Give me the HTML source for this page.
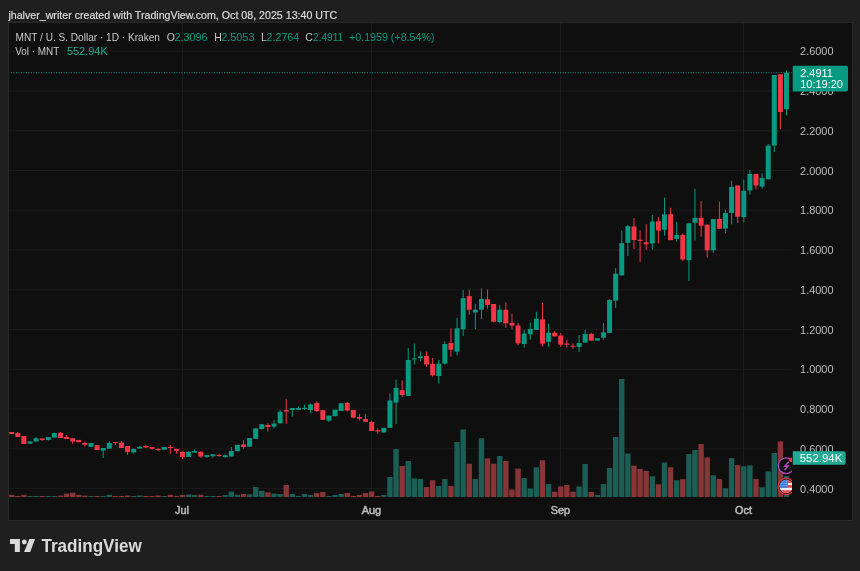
<!DOCTYPE html>
<html><head><meta charset="utf-8"><style>
html,body{margin:0;padding:0;}
body{width:860px;height:571px;overflow:hidden;background:#1f1f1f;position:relative;font-family:"Liberation Sans",Arial,sans-serif;}
svg{position:absolute;left:0;top:0;will-change:transform;}
</style></head><body>
<svg width="860" height="571" viewBox="0 0 860 571">
<defs><clipPath id="cp"><rect x="9" y="23" width="783" height="474.5"/></clipPath></defs>
<rect x="8" y="22" width="845" height="499" fill="#292929"/>
<rect x="9" y="23" width="843" height="497" fill="#0f0f0f"/>
<g clip-path="url(#cp)">
<rect x="9" y="50.72" width="782.5" height="1" fill="#1b1b1b"/>
<rect x="9" y="90.48" width="782.5" height="1" fill="#1b1b1b"/>
<rect x="9" y="130.24" width="782.5" height="1" fill="#1b1b1b"/>
<rect x="9" y="170" width="782.5" height="1" fill="#1b1b1b"/>
<rect x="9" y="209.76" width="782.5" height="1" fill="#1b1b1b"/>
<rect x="9" y="249.52" width="782.5" height="1" fill="#1b1b1b"/>
<rect x="9" y="289.28" width="782.5" height="1" fill="#1b1b1b"/>
<rect x="9" y="329.04" width="782.5" height="1" fill="#1b1b1b"/>
<rect x="9" y="368.8" width="782.5" height="1" fill="#1b1b1b"/>
<rect x="9" y="408.56" width="782.5" height="1" fill="#1b1b1b"/>
<rect x="9" y="448.32" width="782.5" height="1" fill="#1b1b1b"/>
<rect x="9" y="488.08" width="782.5" height="1" fill="#1b1b1b"/>
<rect x="182" y="23" width="1" height="474.5" fill="#1b1b1b"/>
<rect x="371" y="23" width="1" height="474.5" fill="#1b1b1b"/>
<rect x="560" y="23" width="1" height="474.5" fill="#1b1b1b"/>
<rect x="743" y="23" width="1" height="474.5" fill="#1b1b1b"/>
<rect x="8.97" y="494.8" width="5.4" height="2.2" fill="#873536"/>
<rect x="15.07" y="496" width="5.4" height="1" fill="#873536"/>
<rect x="21.17" y="494.8" width="5.4" height="2.2" fill="#873536"/>
<rect x="27.27" y="496" width="5.4" height="1" fill="#1b5e55"/>
<rect x="33.38" y="496" width="5.4" height="1" fill="#1b5e55"/>
<rect x="39.48" y="496" width="5.4" height="1" fill="#873536"/>
<rect x="45.58" y="496" width="5.4" height="1" fill="#1b5e55"/>
<rect x="51.68" y="496" width="5.4" height="1" fill="#1b5e55"/>
<rect x="57.78" y="495.6" width="5.4" height="1.4" fill="#873536"/>
<rect x="63.88" y="493.6" width="5.4" height="3.4" fill="#873536"/>
<rect x="69.98" y="492.7" width="5.4" height="4.3" fill="#873536"/>
<rect x="76.08" y="494.8" width="5.4" height="2.2" fill="#873536"/>
<rect x="82.18" y="495.6" width="5.4" height="1.4" fill="#873536"/>
<rect x="88.28" y="496" width="5.4" height="1" fill="#1b5e55"/>
<rect x="94.39" y="496" width="5.4" height="1" fill="#873536"/>
<rect x="100.49" y="496" width="5.4" height="1" fill="#1b5e55"/>
<rect x="106.59" y="494.8" width="5.4" height="2.2" fill="#1b5e55"/>
<rect x="112.69" y="496" width="5.4" height="1" fill="#873536"/>
<rect x="118.79" y="496" width="5.4" height="1" fill="#873536"/>
<rect x="124.89" y="495.5" width="5.4" height="1.5" fill="#873536"/>
<rect x="130.99" y="496" width="5.4" height="1" fill="#1b5e55"/>
<rect x="137.09" y="495.5" width="5.4" height="1.5" fill="#1b5e55"/>
<rect x="143.19" y="496" width="5.4" height="1" fill="#873536"/>
<rect x="149.3" y="496" width="5.4" height="1" fill="#873536"/>
<rect x="155.4" y="495.5" width="5.4" height="1.5" fill="#873536"/>
<rect x="161.5" y="496" width="5.4" height="1" fill="#1b5e55"/>
<rect x="167.6" y="494.8" width="5.4" height="2.2" fill="#873536"/>
<rect x="173.7" y="496" width="5.4" height="1" fill="#873536"/>
<rect x="179.8" y="495" width="5.4" height="2" fill="#873536"/>
<rect x="185.9" y="494.5" width="5.4" height="2.5" fill="#1b5e55"/>
<rect x="192" y="495" width="5.4" height="2" fill="#1b5e55"/>
<rect x="198.1" y="494.8" width="5.4" height="2.2" fill="#873536"/>
<rect x="204.2" y="496" width="5.4" height="1" fill="#1b5e55"/>
<rect x="210.31" y="496" width="5.4" height="1" fill="#1b5e55"/>
<rect x="216.41" y="496" width="5.4" height="1" fill="#873536"/>
<rect x="222.51" y="495" width="5.4" height="2" fill="#1b5e55"/>
<rect x="228.61" y="491.6" width="5.4" height="5.4" fill="#1b5e55"/>
<rect x="234.71" y="494.8" width="5.4" height="2.2" fill="#1b5e55"/>
<rect x="240.81" y="494" width="5.4" height="3" fill="#873536"/>
<rect x="246.91" y="494.3" width="5.4" height="2.7" fill="#1b5e55"/>
<rect x="253.01" y="487" width="5.4" height="10" fill="#1b5e55"/>
<rect x="259.11" y="490.8" width="5.4" height="6.2" fill="#1b5e55"/>
<rect x="265.21" y="492.3" width="5.4" height="4.7" fill="#873536"/>
<rect x="271.31" y="493.5" width="5.4" height="3.5" fill="#1b5e55"/>
<rect x="277.42" y="494" width="5.4" height="3" fill="#1b5e55"/>
<rect x="283.52" y="485" width="5.4" height="12" fill="#873536"/>
<rect x="289.62" y="494" width="5.4" height="3" fill="#1b5e55"/>
<rect x="295.72" y="496" width="5.4" height="1" fill="#1b5e55"/>
<rect x="301.82" y="494" width="5.4" height="3" fill="#1b5e55"/>
<rect x="307.92" y="495" width="5.4" height="2" fill="#1b5e55"/>
<rect x="314.02" y="493" width="5.4" height="4" fill="#873536"/>
<rect x="320.12" y="492" width="5.4" height="5" fill="#873536"/>
<rect x="326.22" y="496" width="5.4" height="1" fill="#1b5e55"/>
<rect x="332.32" y="495" width="5.4" height="2" fill="#1b5e55"/>
<rect x="338.43" y="494" width="5.4" height="3" fill="#1b5e55"/>
<rect x="344.53" y="493" width="5.4" height="4" fill="#873536"/>
<rect x="350.63" y="496" width="5.4" height="1" fill="#873536"/>
<rect x="356.73" y="495" width="5.4" height="2" fill="#873536"/>
<rect x="362.83" y="493" width="5.4" height="4" fill="#873536"/>
<rect x="368.93" y="491.5" width="5.4" height="5.5" fill="#873536"/>
<rect x="375.03" y="496" width="5.4" height="1" fill="#873536"/>
<rect x="381.13" y="495" width="5.4" height="2" fill="#1b5e55"/>
<rect x="387.23" y="477" width="5.4" height="20" fill="#1b5e55"/>
<rect x="393.33" y="449" width="5.4" height="48" fill="#1b5e55"/>
<rect x="399.44" y="466" width="5.4" height="31" fill="#873536"/>
<rect x="405.54" y="461" width="5.4" height="36" fill="#1b5e55"/>
<rect x="411.64" y="478.4" width="5.4" height="18.6" fill="#1b5e55"/>
<rect x="417.74" y="479" width="5.4" height="18" fill="#1b5e55"/>
<rect x="423.84" y="487" width="5.4" height="10" fill="#873536"/>
<rect x="429.94" y="480.3" width="5.4" height="16.7" fill="#873536"/>
<rect x="436.04" y="486" width="5.4" height="11" fill="#1b5e55"/>
<rect x="442.14" y="479" width="5.4" height="18" fill="#1b5e55"/>
<rect x="448.24" y="486" width="5.4" height="11" fill="#873536"/>
<rect x="454.35" y="442" width="5.4" height="55" fill="#1b5e55"/>
<rect x="460.45" y="429.4" width="5.4" height="67.6" fill="#1b5e55"/>
<rect x="466.55" y="463.7" width="5.4" height="33.3" fill="#873536"/>
<rect x="472.65" y="479" width="5.4" height="18" fill="#1b5e55"/>
<rect x="478.75" y="438.2" width="5.4" height="58.8" fill="#1b5e55"/>
<rect x="484.85" y="458.4" width="5.4" height="38.6" fill="#873536"/>
<rect x="490.95" y="463.7" width="5.4" height="33.3" fill="#873536"/>
<rect x="497.05" y="456" width="5.4" height="41" fill="#1b5e55"/>
<rect x="503.15" y="461" width="5.4" height="36" fill="#873536"/>
<rect x="509.25" y="489.6" width="5.4" height="7.4" fill="#873536"/>
<rect x="515.36" y="468.6" width="5.4" height="28.4" fill="#873536"/>
<rect x="521.46" y="478" width="5.4" height="19" fill="#1b5e55"/>
<rect x="527.56" y="488.6" width="5.4" height="8.4" fill="#1b5e55"/>
<rect x="533.66" y="467.2" width="5.4" height="29.8" fill="#1b5e55"/>
<rect x="539.76" y="460.2" width="5.4" height="36.8" fill="#873536"/>
<rect x="545.86" y="484" width="5.4" height="13" fill="#1b5e55"/>
<rect x="551.96" y="491.7" width="5.4" height="5.3" fill="#873536"/>
<rect x="558.06" y="486.4" width="5.4" height="10.6" fill="#873536"/>
<rect x="564.16" y="485" width="5.4" height="12" fill="#873536"/>
<rect x="570.26" y="491.7" width="5.4" height="5.3" fill="#873536"/>
<rect x="576.37" y="486.5" width="5.4" height="10.5" fill="#1b5e55"/>
<rect x="582.47" y="464" width="5.4" height="33" fill="#1b5e55"/>
<rect x="588.57" y="492" width="5.4" height="5" fill="#873536"/>
<rect x="594.67" y="495" width="5.4" height="2" fill="#1b5e55"/>
<rect x="600.77" y="484" width="5.4" height="13" fill="#1b5e55"/>
<rect x="606.87" y="468" width="5.4" height="29" fill="#1b5e55"/>
<rect x="612.97" y="437" width="5.4" height="60" fill="#1b5e55"/>
<rect x="619.07" y="379" width="5.4" height="118" fill="#1b5e55"/>
<rect x="625.17" y="453.5" width="5.4" height="43.5" fill="#1b5e55"/>
<rect x="631.27" y="465.6" width="5.4" height="31.4" fill="#873536"/>
<rect x="637.38" y="469" width="5.4" height="28" fill="#873536"/>
<rect x="643.48" y="471" width="5.4" height="26" fill="#873536"/>
<rect x="649.58" y="476.3" width="5.4" height="20.7" fill="#1b5e55"/>
<rect x="655.68" y="484.3" width="5.4" height="12.7" fill="#873536"/>
<rect x="661.78" y="462.5" width="5.4" height="34.5" fill="#1b5e55"/>
<rect x="667.88" y="467.2" width="5.4" height="29.8" fill="#873536"/>
<rect x="673.98" y="480.3" width="5.4" height="16.7" fill="#1b5e55"/>
<rect x="680.08" y="479.1" width="5.4" height="17.9" fill="#873536"/>
<rect x="686.18" y="454" width="5.4" height="43" fill="#1b5e55"/>
<rect x="692.28" y="450" width="5.4" height="47" fill="#1b5e55"/>
<rect x="698.38" y="444" width="5.4" height="53" fill="#873536"/>
<rect x="704.49" y="457.4" width="5.4" height="39.6" fill="#873536"/>
<rect x="710.59" y="475.2" width="5.4" height="21.8" fill="#1b5e55"/>
<rect x="716.69" y="479" width="5.4" height="18" fill="#873536"/>
<rect x="722.79" y="488.2" width="5.4" height="8.8" fill="#1b5e55"/>
<rect x="728.89" y="458.1" width="5.4" height="38.9" fill="#1b5e55"/>
<rect x="734.99" y="465.1" width="5.4" height="31.9" fill="#873536"/>
<rect x="741.09" y="466.3" width="5.4" height="30.7" fill="#1b5e55"/>
<rect x="747.19" y="465.3" width="5.4" height="31.7" fill="#1b5e55"/>
<rect x="753.29" y="479" width="5.4" height="18" fill="#873536"/>
<rect x="759.39" y="487.3" width="5.4" height="9.7" fill="#1b5e55"/>
<rect x="765.5" y="471.3" width="5.4" height="25.7" fill="#1b5e55"/>
<rect x="771.6" y="453" width="5.4" height="44" fill="#1b5e55"/>
<rect x="777.7" y="441.3" width="5.4" height="55.7" fill="#873536"/>
<rect x="783.8" y="476" width="5.4" height="21" fill="#1b5e55"/>
<line x1="8.392" y1="72.7" x2="791.8" y2="72.7" stroke="#089981" stroke-width="1" stroke-dasharray="1 1.508"/>
<rect x="11.17" y="432" width="1" height="2" fill="#f23645"/>
<rect x="9.17" y="432" width="5.0" height="2" fill="#f23645"/>
<rect x="17.27" y="432" width="1" height="5" fill="#f23645"/>
<rect x="15.27" y="433" width="5.0" height="4" fill="#f23645"/>
<rect x="23.37" y="436" width="1" height="8" fill="#f23645"/>
<rect x="21.37" y="436" width="5.0" height="8" fill="#f23645"/>
<rect x="29.47" y="441" width="1" height="3" fill="#089981"/>
<rect x="27.47" y="441.5" width="5.0" height="2.1" fill="#089981"/>
<rect x="35.58" y="437" width="1" height="4.5" fill="#089981"/>
<rect x="33.58" y="438.3" width="5.0" height="3.2" fill="#089981"/>
<rect x="41.68" y="438.5" width="1" height="2.5" fill="#f23645"/>
<rect x="39.68" y="438.5" width="5.0" height="1.5" fill="#f23645"/>
<rect x="47.78" y="437" width="1" height="3.5" fill="#089981"/>
<rect x="45.78" y="437" width="5.0" height="3" fill="#089981"/>
<rect x="53.88" y="432.6" width="1" height="5" fill="#089981"/>
<rect x="51.88" y="433" width="5.0" height="4.6" fill="#089981"/>
<rect x="59.98" y="432" width="1" height="6" fill="#f23645"/>
<rect x="57.98" y="432.8" width="5.0" height="5.2" fill="#f23645"/>
<rect x="66.08" y="435" width="1" height="4" fill="#f23645"/>
<rect x="64.08" y="437" width="5.0" height="2" fill="#f23645"/>
<rect x="72.18" y="438.3" width="1" height="5.6" fill="#f23645"/>
<rect x="70.18" y="438.3" width="5.0" height="3.2" fill="#f23645"/>
<rect x="78.28" y="439.9" width="1" height="2.3" fill="#f23645"/>
<rect x="76.28" y="439.9" width="5.0" height="2.3" fill="#f23645"/>
<rect x="84.38" y="441.3" width="1" height="5.3" fill="#f23645"/>
<rect x="82.38" y="443" width="5.0" height="1.8" fill="#f23645"/>
<rect x="90.48" y="443" width="1" height="3.9" fill="#089981"/>
<rect x="88.48" y="443" width="5.0" height="3.9" fill="#089981"/>
<rect x="96.59" y="445.2" width="1" height="4.8" fill="#f23645"/>
<rect x="94.59" y="445.2" width="5.0" height="4.8" fill="#f23645"/>
<rect x="102.69" y="448" width="1" height="10" fill="#089981"/>
<rect x="100.69" y="448" width="5.0" height="2.6" fill="#089981"/>
<rect x="108.79" y="441.3" width="1" height="7.4" fill="#089981"/>
<rect x="106.79" y="442.9" width="5.0" height="5.8" fill="#089981"/>
<rect x="114.89" y="442" width="1" height="3" fill="#f23645"/>
<rect x="112.89" y="441.95" width="5.0" height="1" fill="#f23645"/>
<rect x="120.99" y="441.1" width="1" height="6.9" fill="#f23645"/>
<rect x="118.99" y="442.5" width="5.0" height="5.5" fill="#f23645"/>
<rect x="127.09" y="446" width="1" height="8.9" fill="#f23645"/>
<rect x="125.09" y="446" width="5.0" height="6" fill="#f23645"/>
<rect x="133.19" y="448.4" width="1" height="5.4" fill="#089981"/>
<rect x="131.19" y="448.9" width="5.0" height="3.4" fill="#089981"/>
<rect x="139.29" y="446" width="1" height="2.6" fill="#089981"/>
<rect x="137.29" y="446.8" width="5.0" height="1.8" fill="#089981"/>
<rect x="145.39" y="445" width="1" height="3" fill="#f23645"/>
<rect x="143.39" y="446" width="5.0" height="1.5" fill="#f23645"/>
<rect x="151.5" y="447" width="1" height="2.6" fill="#f23645"/>
<rect x="149.5" y="447" width="5.0" height="1.8" fill="#f23645"/>
<rect x="157.6" y="447.9" width="1" height="3.1" fill="#f23645"/>
<rect x="155.6" y="448.9" width="5.0" height="1.1" fill="#f23645"/>
<rect x="163.7" y="447" width="1" height="2.8" fill="#089981"/>
<rect x="161.7" y="447" width="5.0" height="2.8" fill="#089981"/>
<rect x="169.8" y="445" width="1" height="8.8" fill="#f23645"/>
<rect x="167.8" y="446.8" width="5.0" height="1.2" fill="#f23645"/>
<rect x="175.9" y="448.9" width="1" height="4.9" fill="#f23645"/>
<rect x="173.9" y="448.9" width="5.0" height="2" fill="#f23645"/>
<rect x="182" y="451.3" width="1" height="7.5" fill="#f23645"/>
<rect x="180" y="452" width="5.0" height="4.9" fill="#f23645"/>
<rect x="188.1" y="451.3" width="1" height="5.6" fill="#089981"/>
<rect x="186.1" y="451.8" width="5.0" height="5.1" fill="#089981"/>
<rect x="194.2" y="449.5" width="1" height="3.5" fill="#089981"/>
<rect x="192.2" y="451" width="5.0" height="1.7" fill="#089981"/>
<rect x="200.3" y="451.3" width="1" height="6.5" fill="#f23645"/>
<rect x="198.3" y="451.8" width="5.0" height="4.7" fill="#f23645"/>
<rect x="206.4" y="454.8" width="1" height="3.2" fill="#089981"/>
<rect x="204.4" y="455.1" width="5.0" height="1.8" fill="#089981"/>
<rect x="212.5" y="454.3" width="1" height="3.3" fill="#089981"/>
<rect x="210.5" y="454.3" width="5.0" height="1.9" fill="#089981"/>
<rect x="218.61" y="454" width="1" height="3" fill="#f23645"/>
<rect x="216.61" y="455" width="5.0" height="1" fill="#f23645"/>
<rect x="224.71" y="454.4" width="1" height="3.6" fill="#089981"/>
<rect x="222.71" y="455.3" width="5.0" height="1.7" fill="#089981"/>
<rect x="230.81" y="447" width="1" height="9.5" fill="#089981"/>
<rect x="228.81" y="451" width="5.0" height="5.5" fill="#089981"/>
<rect x="236.91" y="444.9" width="1" height="6.3" fill="#089981"/>
<rect x="234.91" y="444.9" width="5.0" height="6.3" fill="#089981"/>
<rect x="243.01" y="440" width="1" height="8.6" fill="#f23645"/>
<rect x="241.01" y="444.4" width="5.0" height="2.6" fill="#f23645"/>
<rect x="249.11" y="438" width="1" height="8.7" fill="#089981"/>
<rect x="247.11" y="438" width="5.0" height="8.7" fill="#089981"/>
<rect x="255.21" y="428.4" width="1" height="10.5" fill="#089981"/>
<rect x="253.21" y="428.4" width="5.0" height="10.5" fill="#089981"/>
<rect x="261.31" y="424.2" width="1" height="5.5" fill="#089981"/>
<rect x="259.31" y="424.2" width="5.0" height="4.8" fill="#089981"/>
<rect x="267.41" y="422.8" width="1" height="8.8" fill="#f23645"/>
<rect x="265.41" y="425" width="5.0" height="2" fill="#f23645"/>
<rect x="273.51" y="420" width="1" height="8.4" fill="#089981"/>
<rect x="271.51" y="423.6" width="5.0" height="3.1" fill="#089981"/>
<rect x="279.62" y="409.7" width="1" height="13.7" fill="#089981"/>
<rect x="277.62" y="411.8" width="5.0" height="11.6" fill="#089981"/>
<rect x="285.72" y="399.2" width="1" height="24.7" fill="#f23645"/>
<rect x="283.72" y="410.2" width="5.0" height="1.4" fill="#f23645"/>
<rect x="291.82" y="408" width="1" height="8.7" fill="#089981"/>
<rect x="289.82" y="408" width="5.0" height="2" fill="#089981"/>
<rect x="297.92" y="406.2" width="1" height="3.5" fill="#089981"/>
<rect x="295.92" y="408" width="5.0" height="1.7" fill="#089981"/>
<rect x="304.02" y="404.7" width="1" height="5.3" fill="#089981"/>
<rect x="302.02" y="407.9" width="5.0" height="1" fill="#089981"/>
<rect x="310.12" y="403.6" width="1" height="9.9" fill="#089981"/>
<rect x="308.12" y="404.4" width="5.0" height="5.6" fill="#089981"/>
<rect x="316.22" y="401.4" width="1" height="10.5" fill="#f23645"/>
<rect x="314.22" y="403.1" width="5.0" height="7.9" fill="#f23645"/>
<rect x="322.32" y="410.1" width="1" height="9.7" fill="#f23645"/>
<rect x="320.32" y="410.1" width="5.0" height="9.7" fill="#f23645"/>
<rect x="328.42" y="415.6" width="1" height="6.4" fill="#089981"/>
<rect x="326.42" y="415.6" width="5.0" height="5" fill="#089981"/>
<rect x="334.52" y="409.7" width="1" height="7" fill="#089981"/>
<rect x="332.52" y="409.7" width="5.0" height="6.4" fill="#089981"/>
<rect x="340.63" y="403.3" width="1" height="7.7" fill="#089981"/>
<rect x="338.63" y="403.3" width="5.0" height="7.7" fill="#089981"/>
<rect x="346.73" y="402" width="1" height="9.5" fill="#f23645"/>
<rect x="344.73" y="402.9" width="5.0" height="7.6" fill="#f23645"/>
<rect x="352.83" y="410" width="1" height="8.3" fill="#f23645"/>
<rect x="350.83" y="410" width="5.0" height="7.6" fill="#f23645"/>
<rect x="358.93" y="414.1" width="1" height="6.3" fill="#f23645"/>
<rect x="356.93" y="417" width="5.0" height="1.7" fill="#f23645"/>
<rect x="365.03" y="413.8" width="1" height="8" fill="#f23645"/>
<rect x="363.03" y="419" width="5.0" height="2.8" fill="#f23645"/>
<rect x="371.13" y="420.4" width="1" height="10.6" fill="#f23645"/>
<rect x="369.13" y="422" width="5.0" height="9" fill="#f23645"/>
<rect x="377.23" y="428.5" width="1" height="5.1" fill="#f23645"/>
<rect x="375.23" y="430.2" width="5.0" height="1.3" fill="#f23645"/>
<rect x="383.33" y="427.8" width="1" height="4.7" fill="#089981"/>
<rect x="381.33" y="427.8" width="5.0" height="4.7" fill="#089981"/>
<rect x="389.43" y="393.7" width="1" height="34.1" fill="#089981"/>
<rect x="387.43" y="400.5" width="5.0" height="27.3" fill="#089981"/>
<rect x="395.53" y="379.7" width="1" height="44.3" fill="#089981"/>
<rect x="393.53" y="387.9" width="5.0" height="14.7" fill="#089981"/>
<rect x="401.64" y="380.3" width="1" height="16.9" fill="#f23645"/>
<rect x="399.64" y="390.1" width="5.0" height="4.9" fill="#f23645"/>
<rect x="407.74" y="348.2" width="1" height="47.8" fill="#089981"/>
<rect x="405.74" y="360" width="5.0" height="36" fill="#089981"/>
<rect x="413.84" y="343.5" width="1" height="20.9" fill="#089981"/>
<rect x="411.84" y="358.45" width="5.0" height="1" fill="#089981"/>
<rect x="419.94" y="351.5" width="1" height="9.8" fill="#089981"/>
<rect x="417.94" y="356.4" width="5.0" height="1.6" fill="#089981"/>
<rect x="426.04" y="351.5" width="1" height="15.3" fill="#f23645"/>
<rect x="424.04" y="356" width="5.0" height="8.4" fill="#f23645"/>
<rect x="432.14" y="358" width="1" height="18.6" fill="#f23645"/>
<rect x="430.14" y="364" width="5.0" height="11.2" fill="#f23645"/>
<rect x="438.24" y="360" width="1" height="23.4" fill="#089981"/>
<rect x="436.24" y="363.7" width="5.0" height="12.3" fill="#089981"/>
<rect x="444.34" y="341.3" width="1" height="23.3" fill="#089981"/>
<rect x="442.34" y="344" width="5.0" height="19.7" fill="#089981"/>
<rect x="450.44" y="328.3" width="1" height="28.4" fill="#f23645"/>
<rect x="448.44" y="343" width="5.0" height="6.7" fill="#f23645"/>
<rect x="456.55" y="317.8" width="1" height="37.8" fill="#089981"/>
<rect x="454.55" y="328.3" width="5.0" height="23.4" fill="#089981"/>
<rect x="462.65" y="290" width="1" height="46" fill="#089981"/>
<rect x="460.65" y="298.2" width="5.0" height="31.1" fill="#089981"/>
<rect x="468.75" y="290" width="1" height="24.7" fill="#f23645"/>
<rect x="466.75" y="296.1" width="5.0" height="13.6" fill="#f23645"/>
<rect x="474.85" y="304" width="1" height="25" fill="#089981"/>
<rect x="472.85" y="309.7" width="5.0" height="2.8" fill="#089981"/>
<rect x="480.95" y="288.4" width="1" height="30.8" fill="#089981"/>
<rect x="478.95" y="298.9" width="5.0" height="10.8" fill="#089981"/>
<rect x="487.05" y="289.5" width="1" height="19.2" fill="#f23645"/>
<rect x="485.05" y="299.3" width="5.0" height="5.7" fill="#f23645"/>
<rect x="493.15" y="304" width="1" height="18.5" fill="#f23645"/>
<rect x="491.15" y="304" width="5.0" height="17.7" fill="#f23645"/>
<rect x="499.25" y="305.2" width="1" height="18.2" fill="#089981"/>
<rect x="497.25" y="309.7" width="5.0" height="12.3" fill="#089981"/>
<rect x="505.35" y="302.3" width="1" height="25.4" fill="#f23645"/>
<rect x="503.35" y="309.8" width="5.0" height="13.5" fill="#f23645"/>
<rect x="511.45" y="313.9" width="1" height="15.4" fill="#f23645"/>
<rect x="509.45" y="322.9" width="5.0" height="2.7" fill="#f23645"/>
<rect x="517.56" y="322.9" width="1" height="22.3" fill="#f23645"/>
<rect x="515.56" y="325.6" width="5.0" height="17.8" fill="#f23645"/>
<rect x="523.66" y="329.9" width="1" height="17.8" fill="#089981"/>
<rect x="521.66" y="333.6" width="5.0" height="10.4" fill="#089981"/>
<rect x="529.76" y="322.5" width="1" height="17.2" fill="#089981"/>
<rect x="527.76" y="329" width="5.0" height="5.2" fill="#089981"/>
<rect x="535.86" y="311.8" width="1" height="18.1" fill="#089981"/>
<rect x="533.86" y="318.8" width="5.0" height="11.1" fill="#089981"/>
<rect x="541.96" y="302.9" width="1" height="43.8" fill="#f23645"/>
<rect x="539.96" y="319.4" width="5.0" height="24.3" fill="#f23645"/>
<rect x="548.06" y="323.7" width="1" height="23" fill="#089981"/>
<rect x="546.06" y="332.7" width="5.0" height="9.1" fill="#089981"/>
<rect x="554.16" y="331" width="1" height="5.4" fill="#f23645"/>
<rect x="552.16" y="332.7" width="5.0" height="3.7" fill="#f23645"/>
<rect x="560.26" y="333.1" width="1" height="13.8" fill="#f23645"/>
<rect x="558.26" y="335.6" width="5.0" height="9.1" fill="#f23645"/>
<rect x="566.36" y="339.9" width="1" height="7.5" fill="#f23645"/>
<rect x="564.36" y="343.5" width="5.0" height="1.2" fill="#f23645"/>
<rect x="572.46" y="343.3" width="1" height="5.5" fill="#f23645"/>
<rect x="570.46" y="345.8" width="5.0" height="1" fill="#f23645"/>
<rect x="578.57" y="335" width="1" height="17" fill="#089981"/>
<rect x="576.57" y="343" width="5.0" height="3.9" fill="#089981"/>
<rect x="584.67" y="329.9" width="1" height="12.7" fill="#089981"/>
<rect x="582.67" y="334.1" width="5.0" height="8.5" fill="#089981"/>
<rect x="590.77" y="332.9" width="1" height="7.7" fill="#f23645"/>
<rect x="588.77" y="333.9" width="5.0" height="6.7" fill="#f23645"/>
<rect x="596.87" y="338.2" width="1" height="2.4" fill="#089981"/>
<rect x="594.87" y="338.2" width="5.0" height="2.4" fill="#089981"/>
<rect x="602.97" y="323" width="1" height="16.7" fill="#089981"/>
<rect x="600.97" y="332.3" width="5.0" height="5.4" fill="#089981"/>
<rect x="609.07" y="299.2" width="1" height="33.6" fill="#089981"/>
<rect x="607.07" y="299.9" width="5.0" height="32.9" fill="#089981"/>
<rect x="615.17" y="268.1" width="1" height="39.8" fill="#089981"/>
<rect x="613.17" y="273.7" width="5.0" height="26.9" fill="#089981"/>
<rect x="621.27" y="230.6" width="1" height="44.8" fill="#089981"/>
<rect x="619.27" y="243.2" width="5.0" height="32.2" fill="#089981"/>
<rect x="627.37" y="225" width="1" height="31.1" fill="#089981"/>
<rect x="625.37" y="226.2" width="5.0" height="16.6" fill="#089981"/>
<rect x="633.47" y="218" width="1" height="31" fill="#f23645"/>
<rect x="631.47" y="226.5" width="5.0" height="13.5" fill="#f23645"/>
<rect x="639.58" y="230.2" width="1" height="31.5" fill="#f23645"/>
<rect x="637.58" y="239.85" width="5.0" height="1" fill="#f23645"/>
<rect x="645.68" y="224.3" width="1" height="25.5" fill="#f23645"/>
<rect x="643.68" y="242.3" width="5.0" height="2" fill="#f23645"/>
<rect x="651.78" y="214.9" width="1" height="34.6" fill="#089981"/>
<rect x="649.78" y="221.5" width="5.0" height="22" fill="#089981"/>
<rect x="657.88" y="217" width="1" height="26.5" fill="#f23645"/>
<rect x="655.88" y="221.2" width="5.0" height="9.4" fill="#f23645"/>
<rect x="663.98" y="197.6" width="1" height="38.1" fill="#089981"/>
<rect x="661.98" y="214.4" width="5.0" height="15.3" fill="#089981"/>
<rect x="670.08" y="207.8" width="1" height="32.4" fill="#f23645"/>
<rect x="668.08" y="214.2" width="5.0" height="26" fill="#f23645"/>
<rect x="676.18" y="222" width="1" height="19.7" fill="#089981"/>
<rect x="674.18" y="234.9" width="5.0" height="4" fill="#089981"/>
<rect x="682.28" y="233.4" width="1" height="27.6" fill="#f23645"/>
<rect x="680.28" y="234.9" width="5.0" height="24.7" fill="#f23645"/>
<rect x="688.38" y="223" width="1" height="58" fill="#089981"/>
<rect x="686.38" y="223.3" width="5.0" height="36.8" fill="#089981"/>
<rect x="694.48" y="188.8" width="1" height="51.6" fill="#089981"/>
<rect x="692.48" y="217.8" width="5.0" height="4.9" fill="#089981"/>
<rect x="700.59" y="201.2" width="1" height="35.5" fill="#f23645"/>
<rect x="698.59" y="217.8" width="5.0" height="7.9" fill="#f23645"/>
<rect x="706.69" y="224.6" width="1" height="33.1" fill="#f23645"/>
<rect x="704.69" y="224.6" width="5.0" height="25.7" fill="#f23645"/>
<rect x="712.79" y="219" width="1" height="33.7" fill="#089981"/>
<rect x="710.79" y="219" width="5.0" height="31.3" fill="#089981"/>
<rect x="718.89" y="201.7" width="1" height="27.1" fill="#f23645"/>
<rect x="716.89" y="219" width="5.0" height="9.8" fill="#f23645"/>
<rect x="724.99" y="209.7" width="1" height="23.8" fill="#089981"/>
<rect x="722.99" y="212.9" width="5.0" height="15.7" fill="#089981"/>
<rect x="731.09" y="180.7" width="1" height="43.7" fill="#089981"/>
<rect x="729.09" y="186.9" width="5.0" height="26" fill="#089981"/>
<rect x="737.19" y="185.5" width="1" height="37.5" fill="#f23645"/>
<rect x="735.19" y="185.5" width="5.0" height="31.2" fill="#f23645"/>
<rect x="743.29" y="179.6" width="1" height="42.7" fill="#089981"/>
<rect x="741.29" y="190.8" width="5.0" height="26.3" fill="#089981"/>
<rect x="749.39" y="170" width="1" height="24.7" fill="#089981"/>
<rect x="747.39" y="174" width="5.0" height="16.5" fill="#089981"/>
<rect x="755.49" y="174" width="1" height="15.7" fill="#f23645"/>
<rect x="753.49" y="174" width="5.0" height="11.5" fill="#f23645"/>
<rect x="761.6" y="173.3" width="1" height="15.4" fill="#089981"/>
<rect x="759.6" y="177.9" width="5.0" height="8.7" fill="#089981"/>
<rect x="767.7" y="144" width="1" height="35.3" fill="#089981"/>
<rect x="765.7" y="145.7" width="5.0" height="33.6" fill="#089981"/>
<rect x="773.8" y="75" width="1" height="77" fill="#089981"/>
<rect x="771.8" y="75" width="5.0" height="70.5" fill="#089981"/>
<rect x="779.9" y="74.3" width="1" height="54.9" fill="#f23645"/>
<rect x="777.9" y="74.3" width="5.0" height="37.7" fill="#f23645"/>
<rect x="786" y="70.3" width="1" height="45.1" fill="#089981"/>
<rect x="784" y="72.8" width="5.0" height="36.4" fill="#089981"/>
<g>
<circle cx="786.2" cy="465.7" r="7.9" fill="#0f0f0f" stroke="#ab47bc" stroke-width="1.3"/>
<path d="M788.7 461.8 L784.6 466.3 L788.1 466.0 L784.5 470.3" fill="none" stroke="#ab47bc" stroke-width="1.5" stroke-linejoin="miter" stroke-linecap="butt"/>
<circle cx="791.3" cy="460" r="2.2" fill="#f23645"/>
<circle cx="786.2" cy="486.4" r="8.1" fill="#0f0f0f" stroke="#e5323f" stroke-width="1.3"/>
<clipPath id="fl"><circle cx="786.2" cy="486.4" r="6.6"/></clipPath>
<g clip-path="url(#fl)">
<rect x="779" y="479" width="15" height="15" fill="#f2f2f2"/>
<rect x="779" y="479" width="15" height="4.1" fill="#ef4d54"/>
<rect x="779" y="485" width="15" height="2.8" fill="#ef4d54"/>
<rect x="779" y="490.2" width="15" height="3.5" fill="#ef4d54"/>
<rect x="779" y="479" width="8.8" height="8.8" fill="#3a82e0"/>
<g fill="#cfe0f8"><circle cx="781.8" cy="481.3" r="0.45"/><circle cx="784" cy="481.3" r="0.45"/><circle cx="786.2" cy="481.3" r="0.45"/>
<circle cx="781.8" cy="483.5" r="0.45"/><circle cx="784" cy="483.5" r="0.45"/><circle cx="786.2" cy="483.5" r="0.45"/>
<circle cx="781.8" cy="485.7" r="0.45"/><circle cx="784" cy="485.7" r="0.45"/><circle cx="786.2" cy="485.7" r="0.45"/></g>
</g>
</g>
</g>
<!-- price labels -->
<g font-family="Liberation Sans, Arial, sans-serif" font-size="10.5" fill="#bdbdbd">
<text x="800.1" y="55.3" textLength="33.4" lengthAdjust="spacingAndGlyphs">2.6000</text>
<text x="800.1" y="95.0" textLength="33.4" lengthAdjust="spacingAndGlyphs">2.4000</text>
<text x="800.1" y="134.8" textLength="33.4" lengthAdjust="spacingAndGlyphs">2.2000</text>
<text x="800.1" y="174.6" textLength="33.4" lengthAdjust="spacingAndGlyphs">2.0000</text>
<text x="800.1" y="214.3" textLength="33.4" lengthAdjust="spacingAndGlyphs">1.8000</text>
<text x="800.1" y="254.1" textLength="33.4" lengthAdjust="spacingAndGlyphs">1.6000</text>
<text x="800.1" y="293.9" textLength="33.4" lengthAdjust="spacingAndGlyphs">1.4000</text>
<text x="800.1" y="333.6" textLength="33.4" lengthAdjust="spacingAndGlyphs">1.2000</text>
<text x="800.1" y="373.4" textLength="33.4" lengthAdjust="spacingAndGlyphs">1.0000</text>
<text x="800.1" y="413.2" textLength="33.4" lengthAdjust="spacingAndGlyphs">0.8000</text>
<text x="800.1" y="452.9" textLength="33.4" lengthAdjust="spacingAndGlyphs">0.6000</text>
<text x="800.1" y="492.7" textLength="33.4" lengthAdjust="spacingAndGlyphs">0.4000</text>
</g>
<!-- last price label -->
<path d="M792.7 65.8 H846 a2 2 0 0 1 2 2 V89.5 a2 2 0 0 1 -2 2 H792.7 Z" fill="#089981"/>
<g font-family="Liberation Sans, Arial, sans-serif" font-size="10.9" fill="#ffffff">
<text x="800.2" y="77" textLength="32.8" lengthAdjust="spacingAndGlyphs">2.4911</text>
<text x="800.2" y="88.4" textLength="42.8" lengthAdjust="spacingAndGlyphs">10:19:20</text>
</g>
<path d="M792.8 451.2 H843.6 a2 2 0 0 1 2 2 V462.8 a2 2 0 0 1 -2 2 H792.8 Z" fill="#22ab94"/>
<text x="799.7" y="461.8" font-family="Liberation Sans, Arial, sans-serif" font-size="10.9" fill="#ffffff" textLength="42.6" lengthAdjust="spacingAndGlyphs">552.94K</text>
<!-- time labels -->
<g font-family="Liberation Sans, Arial, sans-serif" font-size="10.9" fill="#bdbdbd" stroke="#bdbdbd" stroke-width="0.5" text-anchor="middle">
<text x="182" y="513.6">Jul</text>
<text x="371.5" y="513.6">Aug</text>
<text x="560.5" y="513.6">Sep</text>
<text x="743.5" y="513.6">Oct</text>
</g>
<!-- header -->
<text x="8.4" y="18.6" font-family="Liberation Sans, Arial, sans-serif" font-size="10.7" fill="#dcdcdc" stroke="#dcdcdc" stroke-width="0.2" textLength="328.8" lengthAdjust="spacingAndGlyphs">jhalver_writer created with TradingView.com, Oct 08, 2025 13:40 UTC</text>
<!-- legend -->
<g font-family="Liberation Sans, Arial, sans-serif" font-size="10.5" fill="#cacaca" stroke-width="0">
<text x="15.6" y="40.6" textLength="144.3" lengthAdjust="spacingAndGlyphs">MNT / U. S. Dollar · 1D · Kraken</text>
<text x="166.8" y="40.6">O</text><text x="174.6" y="40.6" fill="#089981" textLength="33" lengthAdjust="spacingAndGlyphs">2.3096</text>
<text x="214.3" y="40.6">H</text><text x="221.2" y="40.6" fill="#089981" textLength="33.3" lengthAdjust="spacingAndGlyphs">2.5053</text>
<text x="261" y="40.6">L</text><text x="266.6" y="40.6" fill="#089981" textLength="32.6" lengthAdjust="spacingAndGlyphs">2.2764</text>
<text x="305.2" y="40.6">C</text><text x="313" y="40.6" fill="#089981" textLength="30.2" lengthAdjust="spacingAndGlyphs">2.4911</text>
<text x="349" y="40.6" fill="#089981" textLength="85.5" lengthAdjust="spacingAndGlyphs">+0.1959 (+8.54%)</text>
<text x="15.2" y="55" textLength="44.1" lengthAdjust="spacingAndGlyphs">Vol · MNT</text>
<text x="66.9" y="55" fill="#22ab94" textLength="40.9" lengthAdjust="spacingAndGlyphs">552.94K</text>
</g>
<!-- logo -->
<g fill="#dadada">
<path d="M10 539 H19.9 V552 H14.8 V544.1 H10 Z"/>
<circle cx="24.3" cy="542" r="2.45"/>
<path d="M29.3 539 H35 L30.2 552 H24.1 Z"/>
<text x="41.4" y="552" font-family="Liberation Sans, Arial, sans-serif" font-size="17.8" font-weight="bold" textLength="100.3" lengthAdjust="spacingAndGlyphs">TradingView</text>
</g>
</svg>
</body></html>
